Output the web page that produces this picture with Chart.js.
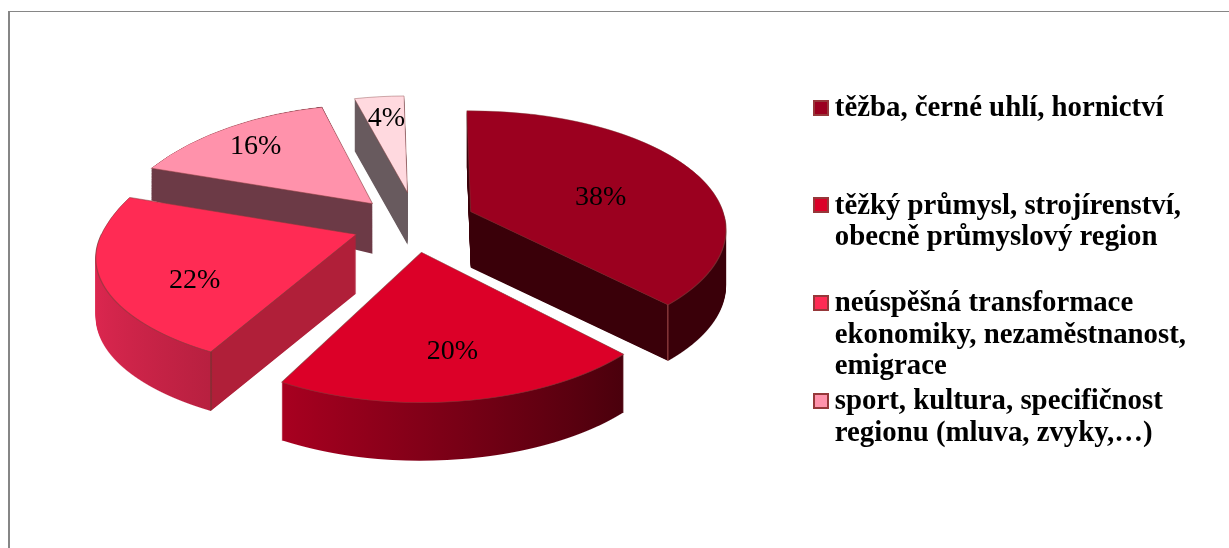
<!DOCTYPE html>
<html><head><meta charset="utf-8">
<script src="https://cdn.jsdelivr.net/npm/chart.js@4/dist/chart.umd.min.js"></script>
<style>
html,body{margin:0;padding:0;background:#fff;overflow:hidden;width:1229px;height:548px}
#frame{position:absolute;left:8px;top:11px;width:1240px;height:560px;border-left:2px solid #868686;border-top:1px solid #868686;box-sizing:border-box}
#wrap{position:absolute;left:0;top:0;width:1229px;height:548px}
</style></head><body>
<div id="frame"></div>
<div id="wrap"><canvas id="c" width="1229" height="548"></canvas></div>
<script>
const categories = [
  ['těžba, černé uhlí, hornictví','',''],
  ['těžký průmysl, strojírenství,','obecně průmyslový region',''],
  ['neúspěšná transformace','ekonomiky, nezaměstnanost,','emigrace'],
  ['sport, kultura, specifičnost','regionu (mluva, zvyky,…)',''],
  ['']
];
const shares = [38, 20, 22, 16, 4];
const topColors = ['#9b001f','#dc0028','#ff2b54','#ff92ab','#ffd9df'];
const legendCount = 4;

// pseudo-3D look (styling only)
const look = {
  cx: 412.5, cy: 223, explode: 63, explodeK: 0.47,
  nudgeX: [0,0,2,4,4], nudgeY: [0,0,0,2,-1],
  xScale: [0.99,1,1,1,1],
  kBack:  [0.455,0.49,0.533,0.525,0.488],
  kFront: [0.455,0.49,0.426,0.525,0.488],
  persp:  [0.0013,0.00135,0.0019,0.0026,0.0023],
  depth:  [56,58,59,50,52],
  bottomBack: [1,1,1,1.5,1],
  order:  [4,3,0,2,1],
  labelR: [137.6,177,177,191.5,190.5],
  labelBias: [7.5,-0.7,-9.9,-1.9,0.5],
  labelDy: 2,
  strip: 1
};
function wallFill(ctx, el, i){
  const R = el.outerRadius, g = ctx.createLinearGradient(el.x-R,0,el.x+R,0);
  const fEnd = (1+Math.cos(el.endAngle))/2, fStart = (1+Math.cos(el.startAngle))/2;
  if(i===0){
    g.addColorStop(0,'#3a0009'); g.addColorStop(Math.max(fEnd-.002,0),'#3a0009');
    g.addColorStop(fEnd,'#a04a4a'); g.addColorStop(fEnd+.002,'#3a0009'); g.addColorStop(1,'#3a0009');
  } else if(i===1){
    g.addColorStop(Math.min(fStart,fEnd),'#a80020'); g.addColorStop(Math.max(fStart,fEnd),'#4a000c');
  } else if(i===2){
    g.addColorStop(0,'#de2750'); g.addColorStop(fStart-.002,'#b82040');
    g.addColorStop(fStart,'#7a3030'); g.addColorStop(fStart+.002,'#b01f39'); g.addColorStop(1,'#b01f39');
  } else if(i===3){
    g.addColorStop(0,'#6c3a46'); g.addColorStop(1,'#6c3a46');
  } else {
    g.addColorStop(0,'#685a5e'); g.addColorStop(1,'#685a5e');
  }
  return g;
}
function sinRange(a,b){
  let lo=Math.min(0,Math.sin(a),Math.sin(b)), hi=Math.max(0,Math.sin(a),Math.sin(b));
  for(let n=-2;n<=2;n++){
    const up=-Math.PI/2+2*Math.PI*n, dn=Math.PI/2+2*Math.PI*n;
    if(up>=a&&up<=b) lo=-1;
    if(dn>=a&&dn<=b) hi=1;
  }
  return [lo,hi];
}
// one copy of a slice, drawn row by row under a perspective projection:
// screen row v shows source row y = v/(k*s) scaled in x by s = 1 + c*v
function layer(ctx, el, i, ax, ay, kb, kf, opts){
  const R = el.outerRadius+2, [lo,hi] = sinRange(el.startAngle,el.endAngle);
  const q = look.persp[i]*look.kBack[i], qf = look.persp[i]*look.kFront[i];
  const vLo = kb*lo*R/(1-q*lo*R), vHi = kf*hi*R/(1-qf*hi*R);
  const h = look.strip, y0 = Math.floor(ay+vLo)-2, y1 = Math.ceil(ay+vHi)+2;
  const saved = el.options; el.options = opts;
  for(let Y=y0; Y<y1; Y+=h){
    const v = Y+h/2-ay, k = v<0?kb:kf, c = (v<0?q:qf)/k;
    const s = 1+c*v;
    ctx.save();
    ctx.beginPath(); ctx.rect(0,Y,1229,h); ctx.clip();
    ctx.translate(ax,ay+v); ctx.scale(s*look.xScale[i],k*s*s); ctx.translate(-el.x,-el.y-v/(k*s));
    el.draw(ctx);
    ctx.restore();
  }
  el.options = saved;
}
function dirOf(el){ const m=(el.startAngle+el.endAngle)/2; return [Math.cos(m),Math.sin(m),m]; }
function apexOf(el,i){
  const [dx,dy]=dirOf(el);
  return [look.cx+look.explode*dx+look.nudgeX[i], look.cy+look.explode*look.explodeK*dy+look.nudgeY[i]];
}
const pie3d = {
  id:'pie3d',
  beforeDatasetsDraw(chart){
    const ctx = chart.ctx, arcs = chart.getDatasetMeta(0).data;
    for(const i of look.order){
      const el = arcs[i], [ax,ay] = apexOf(el,i);
      const wall = Object.create(el.options); wall.backgroundColor = wallFill(ctx,el,i); wall.borderWidth = 0;
      for(let d=look.depth[i]; d>=1; d--){
        const t = d/look.depth[i], kb = look.kBack[i]*(1+(look.bottomBack[i]-1)*t);
        layer(ctx,el,i,ax,ay+d,kb,look.kFront[i],wall);
      }
      layer(ctx,el,i,ax,ay,look.kBack[i],look.kFront[i],el.options);
    }
    ctx.save();
    ctx.font = '28px "Liberation Serif"'; ctx.fillStyle='#000'; ctx.textAlign='center'; ctx.textBaseline='middle';
    arcs.forEach((el,i)=>{
      const [,,m] = dirOf(el), [ax,ay] = apexOf(el,i);
      const a = m+look.labelBias[i]*Math.PI/180, r = look.labelR[i];
      const y = r*Math.sin(a), k = y>0?look.kFront[i]:look.kBack[i], c = look.persp[i];
      const v = k*y/(1-c*k*y), s = 1+c*v;
      ctx.fillText(shares[i]+'%', ax+r*Math.cos(a)*s, ay+v+look.labelDy);
    });
    ctx.restore();
    // legend swatches sit closer to the text than the library's fixed gap allows
    chart.legend.legendHitBoxes.forEach((hit,i)=>{
      const x = Math.round(hit.left-6.6), y = Math.round(hit.top+5.4);
      ctx.fillStyle = '#96383a'; ctx.fillRect(x,y,16,16);
      ctx.fillStyle = topColors[i]; ctx.fillRect(x+2,y+2,12,12);
    });
    return false;
  }
};
new Chart(document.getElementById('c'),{
  type:'pie',
  data:{labels:categories,datasets:[{data:shares,backgroundColor:topColors,borderColor:'rgba(130,60,60,.75)',borderWidth:1,radius:255}]},
  plugins:[pie3d],
  options:{
    responsive:false,animation:false,rotation:-1,
    layout:{padding:{top:28,right:33,bottom:0,left:0}},
    plugins:{
      tooltip:{enabled:false},
      legend:{
        position:'right',align:'center',
        labels:{
          usePointStyle:true,pointStyleWidth:1,boxHeight:1,padding:3.2,color:'#0a0a0a',
          font:{family:'"Liberation Serif"',weight:'bold',size:28.8,lineHeight:'31.5px'},
          generateLabels(){
            return categories.slice(0,legendCount).map((t,i)=>({text:t,fillStyle:'rgba(0,0,0,0)',strokeStyle:'rgba(0,0,0,0)',lineWidth:0,index:i,hidden:false,pointStyle:'rect'}));
          }
        }
      }
    }
  }
});
</script>
</body></html>
